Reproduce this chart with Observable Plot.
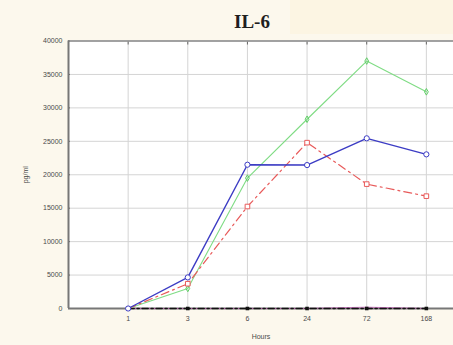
<!DOCTYPE html>
<html>
<head>
<meta charset="utf-8">
<script src="https://cdn.jsdelivr.net/npm/d3@7"></script>
<script src="https://cdn.jsdelivr.net/npm/@observablehq/plot@0.6"></script>
<style>
  html, body { margin: 0; padding: 0; background: #fcf8ed; }
  #wrap { width: 453px; height: 345px; position: relative; overflow: hidden; }
  #title { height: 36px; position: relative; }
  #title span {
    position: absolute; top: 9.5px; left: 0; width: 402px; padding-left: 51px;
    text-align: center; font: bold 19px/24px "Liberation Serif", "DejaVu Serif", serif; color: #1e1e1e;
  }
  #band { position: absolute; left: 290px; top: 0; width: 163px; height: 34px; background: #fcf5e3; }
</style>
</head>
<body>
<div id="wrap">
  <div id="title"><div id="band"></div><span>IL-6</span></div>
  <div id="chart"></div>
</div>
<script>
// Sampling times (hours) and IL-6 concentrations (pg/ml) per group
const hours = ["1", "3", "6", "24", "72", "168"];
const blueGroup = [0, 4650, 21500, 21450, 25450, 23050];
const greenGroup = [0, 3000, 19500, 28300, 37000, 32400];
const redGroup = [0, 3700, 15250, 24800, 18600, 16800];
const blackGroup = [0, 0, 0, 0, 0, 0];
const pinkGroup = [0, 0, 0, 0, 200, 0];
const yTicks = [0, 5000, 10000, 15000, 20000, 25000, 30000, 35000, 40000];

// category positions 1..6 on a linear index scale
const idx = hours.map((_, i) => i + 1);
const rows = (vals) => vals.map((v, i) => ({x: i + 1, y: v}));

const chart = Plot.plot({
  width: 453,
  height: 309,
  marginLeft: 68,
  marginRight: 0,
  marginTop: 4.5,
  marginBottom: 37,
  style: {background: "transparent", fontFamily: "Liberation Sans, Arial, sans-serif"},
  x: {domain: [0, 6.455], range: [68, 453]},
  y: {domain: [0, 40000]},
  marks: [
    Plot.frame({fill: "white", stroke: "none"}),
    Plot.gridY(yTicks, {stroke: "#d4d4d4", strokeOpacity: 1}),
    Plot.gridX(idx, {stroke: "#d4d4d4", strokeOpacity: 1}),
    Plot.axisY({ticks: yTicks, tickSize: 0, tickPadding: 6, fontSize: 7, color: "#4a4a4a",
      tickFormat: (d) => String(d),
      label: "pg/ml", labelAnchor: "center", labelArrow: "none", labelOffset: 45}),
    Plot.axisY({ticks: yTicks, tickSize: -2, tickFormat: () => "", label: null, stroke: "#666"}),
    Plot.axisX({ticks: idx, tickSize: 0, tickPadding: 8, fontSize: 7, color: "#4a4a4a",
      tickFormat: (i) => hours[i - 1], label: "Hours", labelAnchor: "center", labelArrow: "none", labelOffset: 30}),
    Plot.axisX({anchor: "top", ticks: idx, tickSize: -3, tickFormat: () => "", label: null, stroke: "#666"}),
    Plot.ruleY([40000], {stroke: "#8a8a8a", strokeWidth: 1.3}),
    Plot.ruleY([0], {stroke: "#777", strokeWidth: 2}),
    Plot.ruleX([0], {stroke: "#777", strokeWidth: 2}),
    // near-zero groups
    Plot.line(rows(pinkGroup), {x: "x", y: "y", stroke: "#c050b0", strokeWidth: 1, strokeOpacity: 0.7}),
    Plot.line(rows(blackGroup), {x: "x", y: "y", stroke: "#111", strokeWidth: 1.6, strokeDasharray: "6,3,2,3"}),
    Plot.dot(rows(blackGroup), {x: "x", y: "y", symbol: "square", r: 2, fill: "#111"}),
    // green group
    Plot.line(rows(greenGroup), {x: "x", y: "y", stroke: "#7fdc84", strokeWidth: 1.1}),
    Plot.dot(rows(greenGroup).slice(1), {x: "x", y: "y", symbol: "diamond", r: 2, stroke: "#5fcf66", strokeWidth: 1}),
    // red group
    Plot.line(rows(redGroup), {x: "x", y: "y", stroke: "#e85a5a", strokeWidth: 1.2, strokeDasharray: "8,4,2,4"}),
    Plot.dot(rows(redGroup).slice(1), {x: "x", y: "y", symbol: "square", r: 2.6, stroke: "#e85a5a", strokeWidth: 1, fill: "white"}),
    // blue group
    Plot.line(rows(blueGroup), {x: "x", y: "y", stroke: "#3c3cc4", strokeWidth: 1.4}),
    Plot.dot(rows(blueGroup), {x: "x", y: "y", r: 2.6, stroke: "#3c3cc4", strokeWidth: 1, fill: "white"})
  ]
});
document.getElementById("chart").appendChild(chart);
</script>
</body>
</html>
